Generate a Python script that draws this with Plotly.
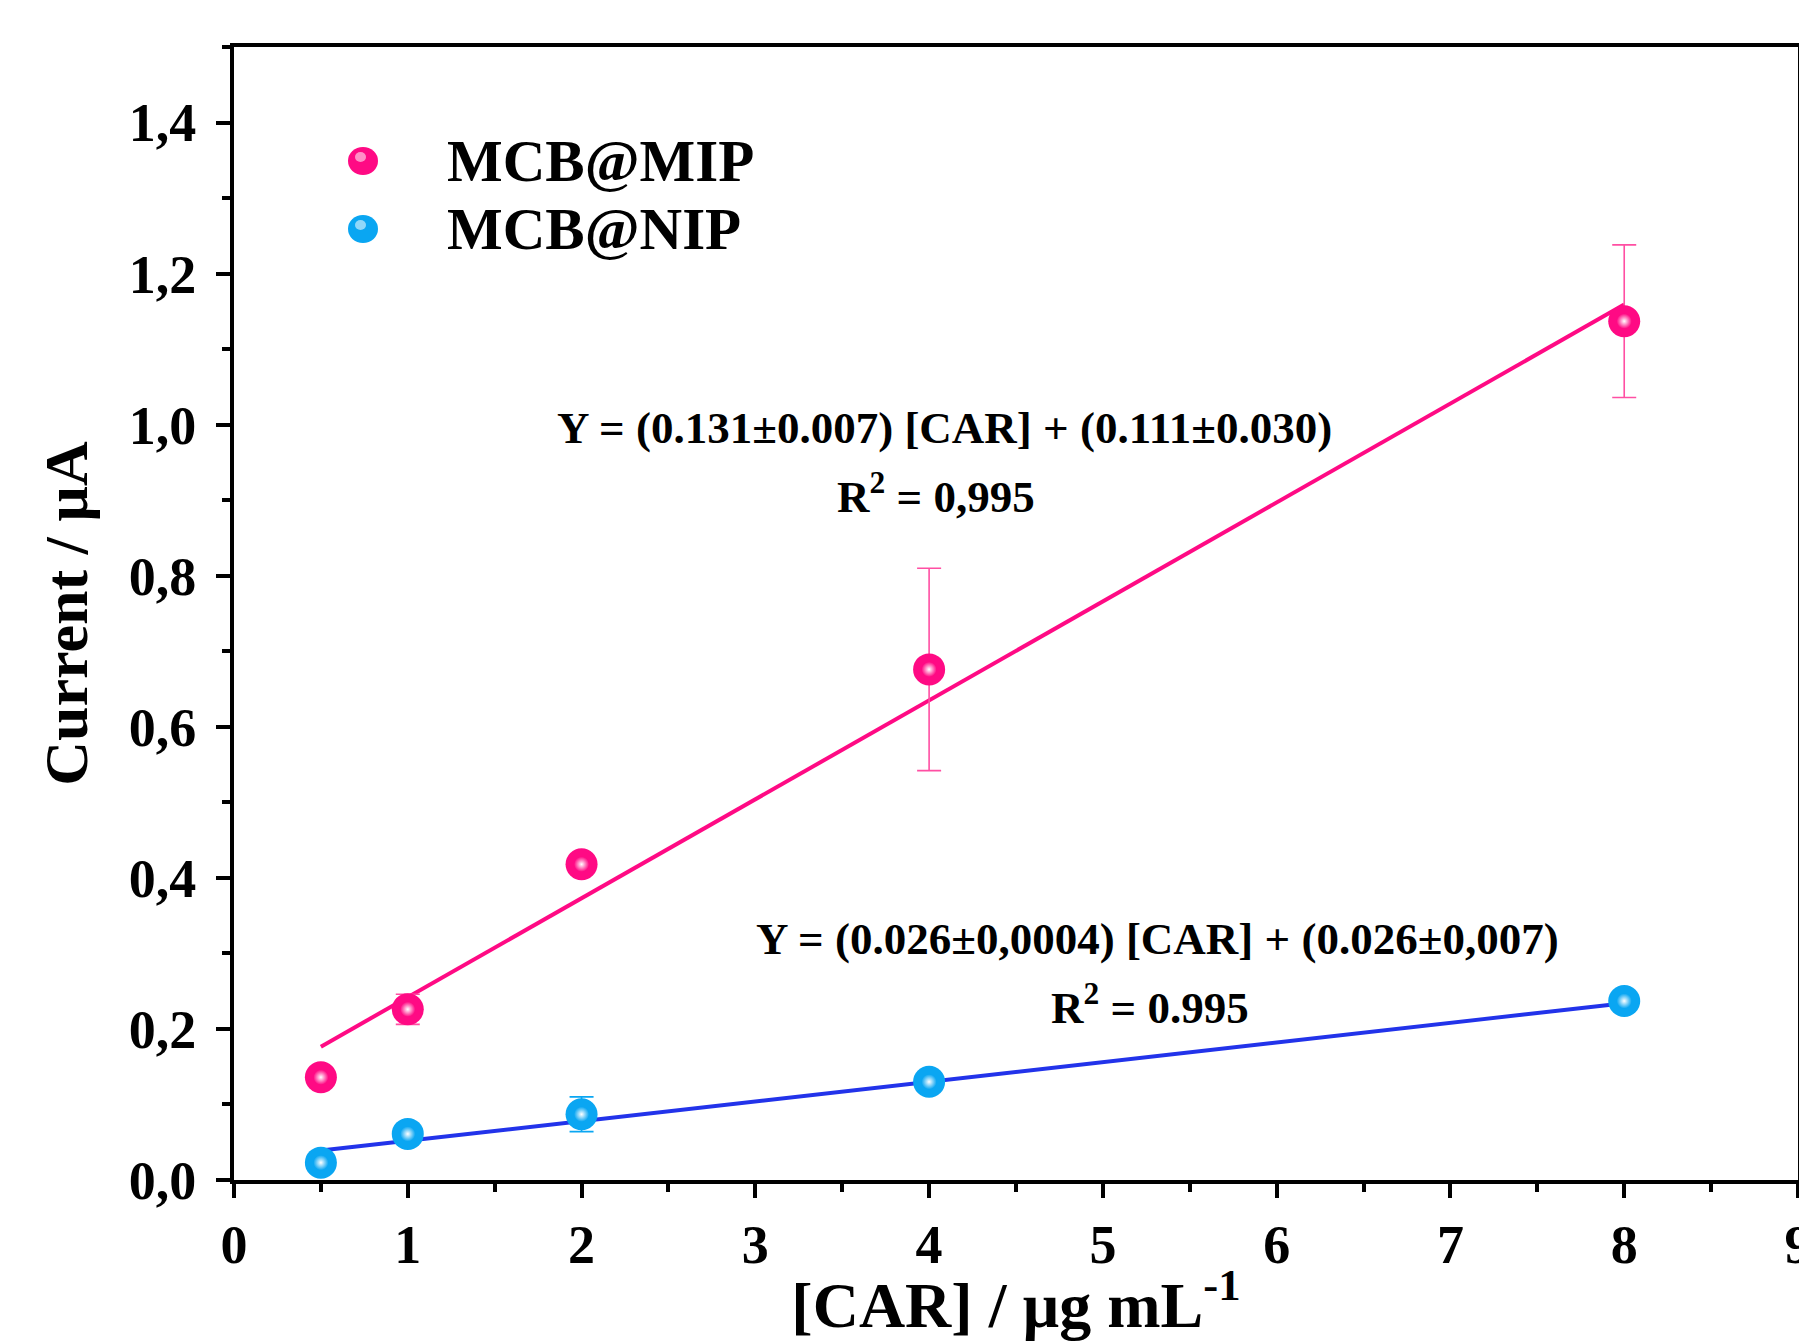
import plotly.graph_objects as go

# ---- data ----
conc = [0.5, 1, 2, 4, 8]
mip_current = [0.136, 0.226, 0.418, 0.676, 1.137]
mip_err = [0.006, 0.02, 0.008, 0.134, 0.101]
nip_current = [0.023, 0.061, 0.087, 0.130, 0.237]
nip_err = [0.004, 0.005, 0.023, 0.004, 0.004]

mip_fit = {"slope": 0.131, "intercept": 0.111}
nip_fit = {"slope": 0.026, "intercept": 0.026}

x_ticks = [0, 1, 2, 3, 4, 5, 6, 7, 8, 9]
y_ticks = [0.0, 0.2, 0.4, 0.6, 0.8, 1.0, 1.2, 1.4]
y_tick_labels = ["0,0", "0,2", "0,4", "0,6", "0,8", "1,0", "1,2", "1,4"]

mip_label = "MCB@MIP"
nip_label = "MCB@NIP"
mip_eq = "Y = (0.131±0.007) [CAR] + (0.111±0.030)"
mip_r2 = "R<sup>2</sup> = 0,995"
nip_eq = "Y = (0.026±0,0004) [CAR] + (0.026±0,007)"
nip_r2 = "R<sup>2</sup> = 0.995"

PINK = "#FF0A84"
PINK_ERR = "#FF4FA3"
BLUE_MK = "#0AA6F2"
BLUE_LINE = "#2233EA"
FONT = "Liberation Serif"

# page has an 8px body margin: the figure starts at page (8, 8)
OFF = 8
W, H = 1807 - OFF, 1341 - OFF
PL, PR, PT, PB = 234, 1798, 47, 1180   # plot-area edges in page pixels
L, T = PL - OFF, PT - OFF
R = W - (PR - OFF)
B = H - (PB - OFF)

fig = go.Figure()

fit_x = [min(conc), max(conc)]
for fit, col in [(mip_fit, PINK), (nip_fit, BLUE_LINE)]:
    fig.add_trace(go.Scatter(
        x=fit_x, y=[fit["slope"] * v + fit["intercept"] for v in fit_x],
        mode="lines", line=dict(color=col, width=4),
        showlegend=False, hoverinfo="skip"))

for ys, errs, col, ecol in [(mip_current, mip_err, PINK, PINK_ERR),
                            (nip_current, nip_err, BLUE_MK, BLUE_MK)]:
    fig.add_trace(go.Scatter(
        x=conc, y=ys, mode="markers",
        marker=dict(size=32, color=col, line=dict(width=0)),
        error_y=dict(type="data", array=errs, visible=True,
                     color=ecol, thickness=1.6, width=12),
        showlegend=False))
    # highlight for glossy sphere look
    fig.add_trace(go.Scatter(
        x=conc, y=ys, mode="markers",
        marker=dict(size=15, color=col, line=dict(width=0),
                    gradient=dict(type="radial", color="white")),
        showlegend=False, hoverinfo="skip"))

pw = PR - PL
ph = PB - PT
def px(xp):
    return (xp - PL) / pw
def py(yp):
    return (PB - yp) / ph

annotations = []
shapes = []
# legend (manual, large glossy symbols)
for label, col, ycen in [(mip_label, PINK, 161), (nip_label, BLUE_MK, 229)]:
    shapes.append(dict(type="circle", xref="paper", yref="paper",
                       xsizemode="pixel", ysizemode="pixel",
                       xanchor=px(363), yanchor=py(ycen),
                       x0=-15, x1=15, y0=-14, y1=14,
                       fillcolor=col, line=dict(width=0)))
    shapes.append(dict(type="circle", xref="paper", yref="paper",
                       xsizemode="pixel", ysizemode="pixel",
                       xanchor=px(363), yanchor=py(ycen),
                       x0=-8, x1=3, y0=-1, y1=9,
                       fillcolor="rgba(255,255,255,0.55)", line=dict(width=0)))
    annotations.append(dict(text=f"<b>{label}</b>", xref="paper", yref="paper",
                            x=px(445), y=py(ycen), xanchor="left", yanchor="middle",
                            showarrow=False,
                            font=dict(family=FONT, size=59, color="black")))

for txt, xc, yc in [(mip_eq, 944, 428), (mip_r2, 936, 493),
                    (nip_eq, 1157, 939), (nip_r2, 1150, 1005)]:
    annotations.append(dict(text=f"<b>{txt}</b>", xref="paper", yref="paper",
                            x=px(xc), y=py(yc), xanchor="center", yanchor="middle",
                            showarrow=False,
                            font=dict(family=FONT, size=45, color="black")))

axis_common = dict(
    showline=True, linecolor="black", linewidth=4, mirror=True,
    ticks="outside", ticklen=14, tickwidth=4, tickcolor="black",
    showgrid=False, zeroline=False, automargin=False,
    ticklabeloverflow="allow",
    tickfont=dict(family=FONT, size=54, color="black", weight="bold"),
)

fig.update_layout(
    width=W, height=H,
    margin=dict(l=L, r=R, t=T, b=B),
    paper_bgcolor="white", plot_bgcolor="white",
    showlegend=False,
    xaxis=dict(**axis_common, range=[0, 9], tickvals=x_ticks,
               ticktext=[str(v) for v in x_ticks],
               ticklabelstandoff=0,
               minor=dict(ticks="outside", ticklen=8, tickwidth=4,
                          tickcolor="black", dtick=0.5),
               title=dict(text="<b>[CAR] / µg mL<sup>-1</sup></b>",
                          font=dict(family=FONT, size=64, color="black"),
                          standoff=10)),
    yaxis=dict(**axis_common, range=[0, 1.5], tickvals=y_ticks,
               ticktext=y_tick_labels,
               ticklabelstandoff=9,
               minor=dict(ticks="outside", ticklen=8, tickwidth=4,
                          tickcolor="black", dtick=0.1),
               title=dict(text="<b>Current / µA</b>",
                          font=dict(family=FONT, size=62, color="black"),
                          standoff=22)),
    annotations=annotations,
    shapes=shapes,
)

fig.write_html("out.html")
